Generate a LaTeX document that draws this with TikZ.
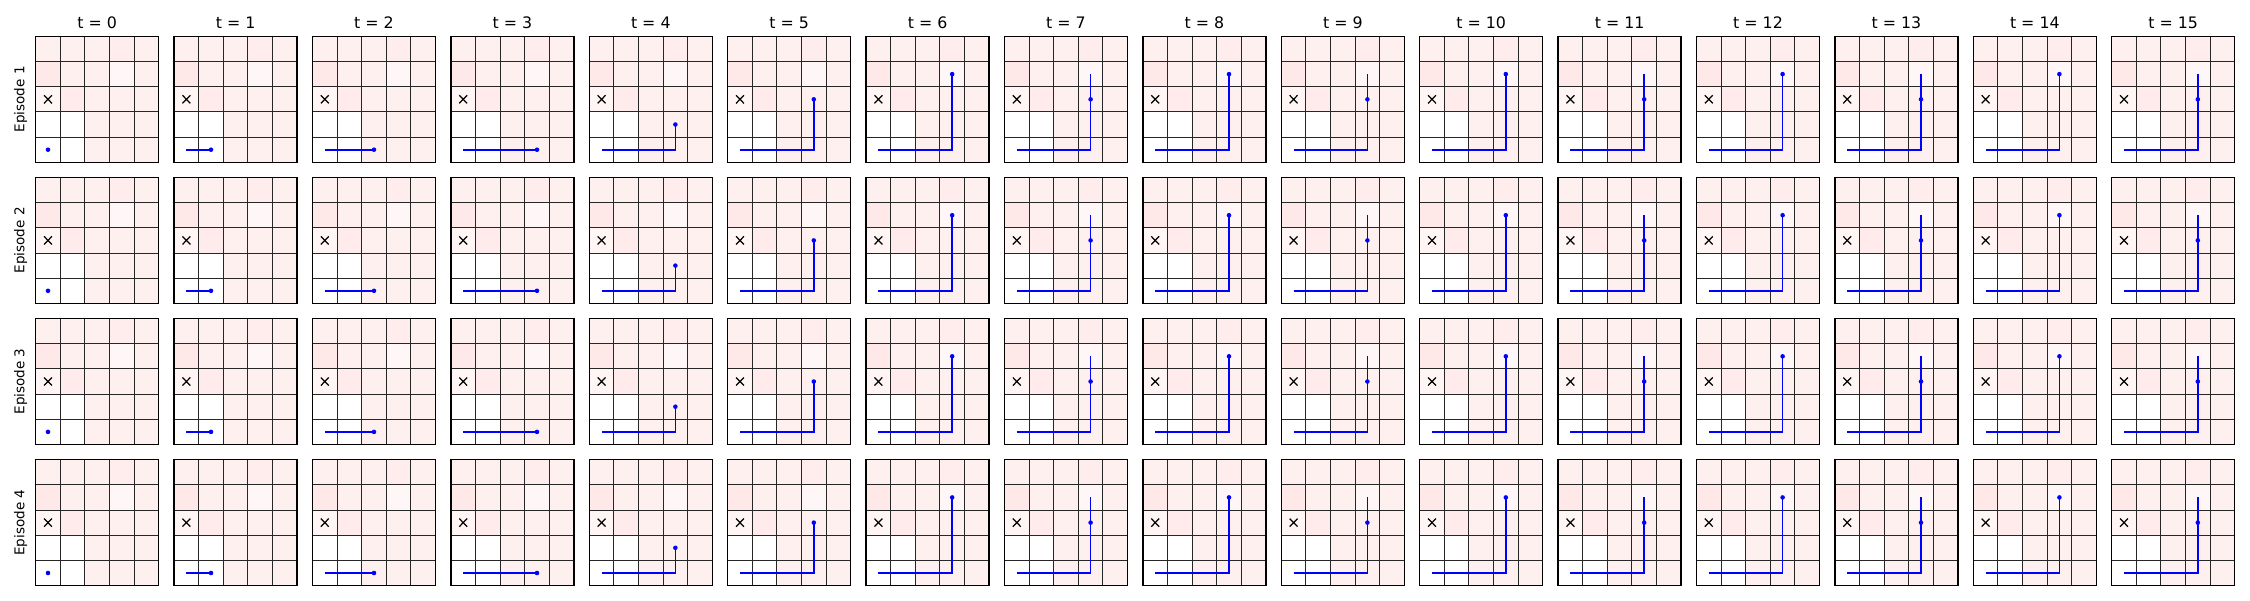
\documentclass[tikz,border=0pt]{standalone}
\usepackage{fontspec}
\setmainfont{DejaVu Sans}
\begin{document}
\begin{tikzpicture}[x=0.02cm, y=0.02cm,
    cellgrid/.style={black!85, line width=0.55pt},
    frame/.style={black, line width=0.75pt},
    walk/.style={blue, line width=1pt},
    goal/.style={black, line width=0.7pt},
    title/.style={font=\fontsize{9}{10}\selectfont, anchor=base},
    eplabel/.style={font=\fontsize{7.7}{9}\selectfont, rotate=90}]
    \useasboundingbox (0,0) rectangle (2250,600);
    \foreach \t in {0,...,15} {
        \pgfmathsetmacro{\cx}{35.7+138.4*\t+61.5}
        \node[title] (title\t) at (\cx,571.7) {t = \t};
    }
    \foreach \e in {1,...,4} {
        \pgfmathsetmacro{\cy}{600-36.3-141.1*(\e-1)-63}
        \pgfmathsetmacro{\py}{600-36.3-141.1*(\e-1)-126}
        \node[eplabel] (episode\e) at (20.7,\cy) {Episode \e};
        \foreach \t in {0,...,15} {
            \pgfmathsetmacro{\px}{35.7+138.4*\t}
            \begin{scope}[shift={(\px,\py)}, x=0.492cm, y=0.504cm]
                \fill[red!6!white] (0,0) rectangle (5,5);
                \fill[white] (0,0) rectangle (2,2);
                \foreach \c/\r/\v in {0/3/9, 3/3/3, 0/2/4, 1/2/8, 3/4/7}
                    \fill[red!\v!white] (\c,\r) rectangle ++(1,1);
                \draw[cellgrid, step=1] (0,0) grid (5,5);
                \draw[frame] (0,0) rectangle (5,5);
                \draw[goal] (0.34,2.34) -- (0.66,2.66) (0.34,2.66) -- (0.66,2.34);
                \pgfmathsetmacro{\dx}{min(\t,3)+0.5}
                \pgfmathsetmacro{\dy}{\t<4 ? 0.5 : (\t==4 ? 1.5 : (isodd(\t) ? 2.5 : 3.5))}
                \pgfmathsetmacro{\vy}{min(\t-3,3)+0.5}
                \ifnum\t>0
                    \ifnum\t>3
                        \draw[walk] (0.5,0.5) -- (3.5,0.5) -- (3.5,\vy);
                    \else
                        \draw[walk] (0.5,0.5) -- (\dx,0.5);
                    \fi
                \fi
                \fill[blue] (\dx,\dy) circle (1.3pt);
            \end{scope}
        }
    }
\end{tikzpicture}
\end{document}
